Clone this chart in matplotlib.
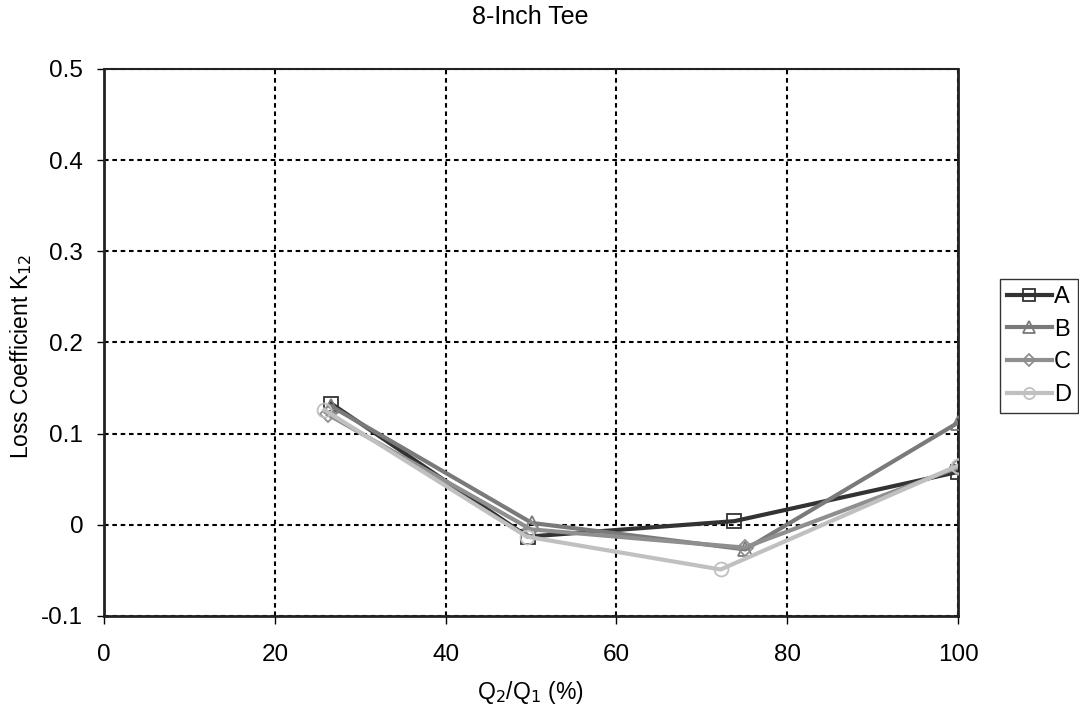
import matplotlib
matplotlib.use("Agg")
import matplotlib.pyplot as plt

plt.rcParams['font.family'] = ['Liberation Sans', 'DejaVu Sans']

# Flow ratio Q2/Q1 (%) and loss coefficient K12 for each series
x_a = [26.6, 49.6, 73.8, 100.0]
k_a = [0.133, -0.013, 0.004, 0.058]
x_b = [26.6, 50.1, 75.1, 100.0]
k_b = [0.130, 0.002, -0.027, 0.112]
x_c = [26.2, 50.0, 75.0, 100.0]
k_c = [0.121, -0.005, -0.025, 0.063]
x_d = [25.8, 49.5, 72.2, 100.0]
k_d = [0.126, -0.013, -0.049, 0.065]

series = [
    ("A", x_a, k_a, "#333333", "s"),
    ("B", x_b, k_b, "#7a7a7a", "^"),
    ("C", x_c, k_c, "#8f8f8f", "D"),
    ("D", x_d, k_d, "#c0c0c0", "o"),
]

xticks = [0, 20, 40, 60, 80, 100]
yticks = [-0.1, 0, 0.1, 0.2, 0.3, 0.4, 0.5]
ytick_labels = ["-0.1", "0", "0.1", "0.2", "0.3", "0.4", "0.5"]

fig = plt.figure(figsize=(10.79, 7.17), dpi=100)
ax = fig.add_axes([0.0964, 0.1409, 0.7915, 0.763])

for name, xs, ks, col, mk in series:
    ms = 8 if mk == "D" else 10
    ax.plot(xs, ks, color=col, lw=3.0, marker=mk, markersize=ms,
            markerfacecolor="none", markeredgecolor=col, markeredgewidth=1.3,
            label=name, zorder=3)

ax.set_xlim(0, 100)
ax.set_ylim(-0.1, 0.5)
ax.set_xticks(xticks)
ax.set_xticklabels([str(t) for t in xticks])
ax.set_yticks(yticks)
ax.set_yticklabels(ytick_labels)
ax.tick_params(axis="y", labelsize=17.5, direction="out", length=5, width=1,
               pad=10)
ax.tick_params(axis="x", labelsize=17.5, direction="out", length=6, width=1,
               pad=14)

ax.grid(True, color="black", linestyle=(0, (2.2, 1.8)), linewidth=1.5)
for s in ax.spines.values():
    s.set_linewidth(2.0)
    s.set_color("#222222")
ax.spines["top"].set_linewidth(1.5)

fig.text(0.4912, 1 - 17 / 717, "8-Inch Tee", fontsize=18, ha="center",
         va="center")
fig.text(0.4912, 1 - 693 / 717, "Q$_2$/Q$_1$ (%)", fontsize=16.5,
         ha="center", va="center")
fig.text(21 / 1079, 1 - 356 / 717, "Loss Coefficient K$_{12}$",
         fontsize=16.5, ha="center", va="center", rotation=90)

leg = ax.legend(loc="upper left", bbox_to_anchor=(1.049, 0.616), fontsize=17,
                frameon=True, fancybox=False, edgecolor="black",
                handlelength=1.9, handletextpad=0.1, borderpad=0.3,
                labelspacing=0.45, borderaxespad=0, markerscale=0.8)
leg.get_frame().set_linewidth(1.0)

fig.savefig("out.png", dpi=100)
